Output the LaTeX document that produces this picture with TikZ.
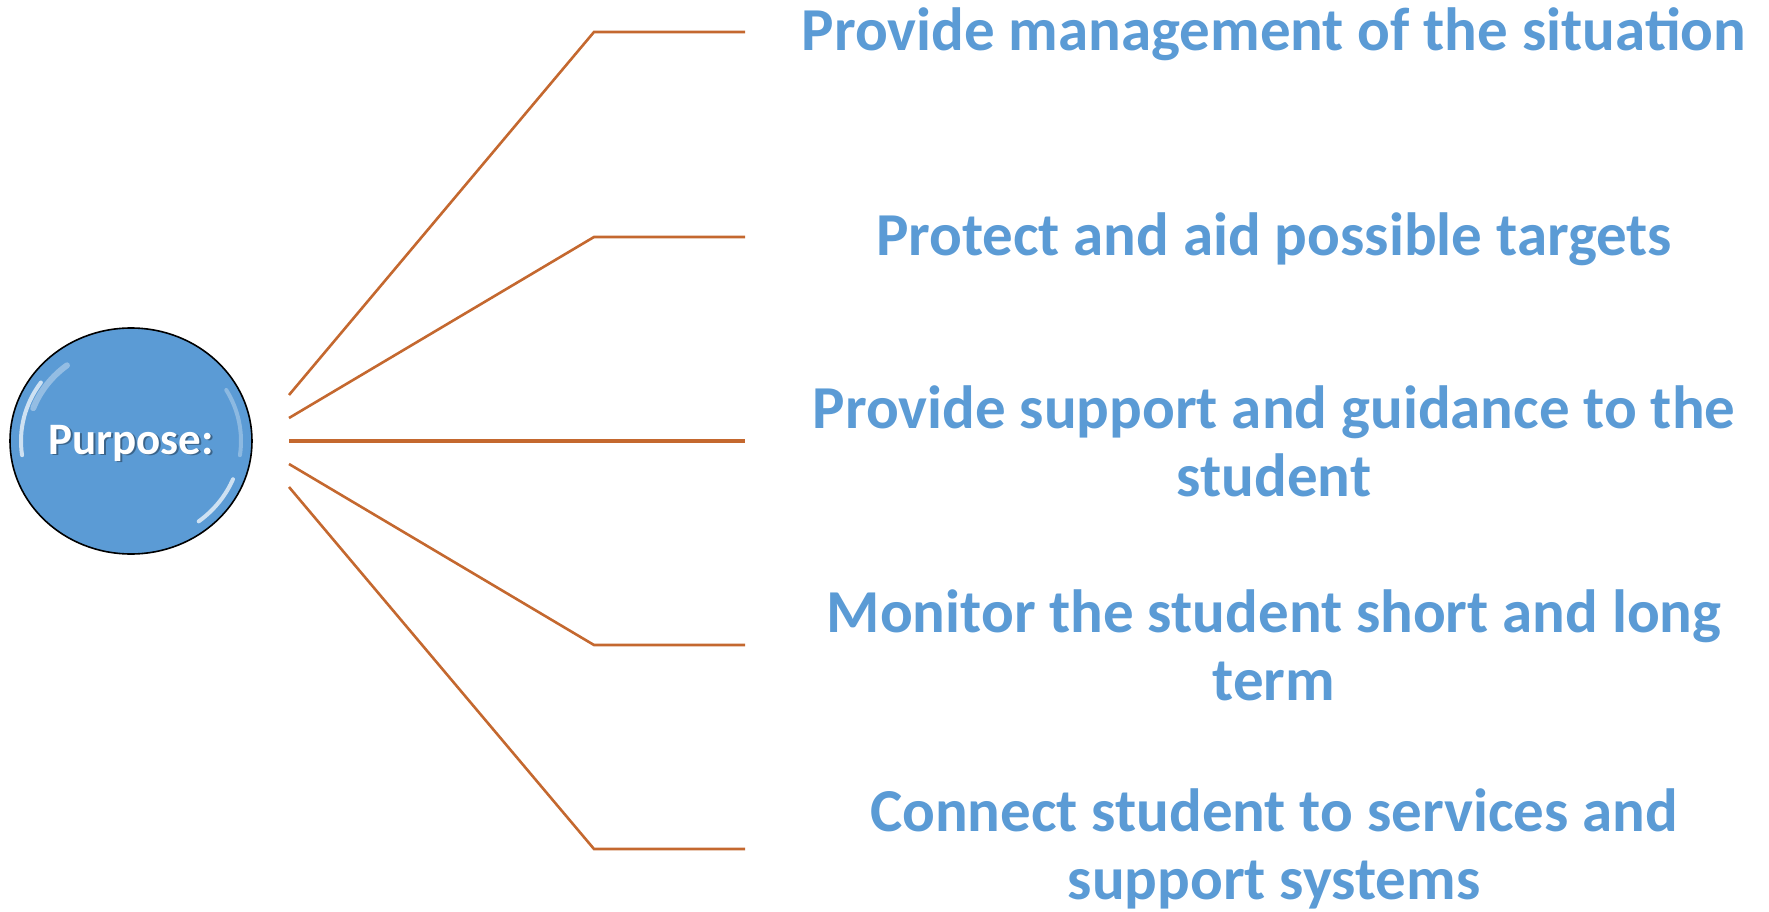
\documentclass[tikz,border=0pt]{standalone}
\usepackage{fontspec}
\setmainfont{Carlito}
\usetikzlibrary{shapes.geometric}
\definecolor{tblue}{HTML}{5B9BD5}
\definecolor{lorange}{HTML}{C4682F}
\tikzset{
  item/.style={text=tblue, font=\fontsize{61}{68}\selectfont\bfseries, align=center, inner sep=0},
  conn/.style={draw=lorange, line width=2.6},
  hub/.style={ellipse, draw=black, line width=1.6, fill=tblue, minimum width=242, minimum height=226, inner sep=0},
  gloss/.style={white, line width=4, opacity=0.7, line cap=round}
}
\begin{document}
\begin{tikzpicture}[x=1pt,y=-1pt]
\useasboundingbox (0,0) rectangle (1769,912);
% hub
\node[hub] (purpose) at (131,441) {};
\draw[gloss] (131,441) ++(172:110 and 102) arc[start angle=172, end angle=215, x radius=110, y radius=102];
\draw[gloss, opacity=0.35, line width=6] (131,441) ++(200:104 and 96) arc[start angle=200, end angle=232, x radius=104, y radius=96];
\draw[gloss] (131,441) ++(22:110 and 102) arc[start angle=22, end angle=52, x radius=110, y radius=102];
\draw[gloss, opacity=0.3] (131,441) ++(-30:110 and 102) arc[start angle=-30, end angle=8, x radius=110, y radius=102];
\node[text=black, opacity=0.35, font=\fontsize{45}{54}\selectfont\bfseries] at (133,444) {Purpose:};
\node[text=white, font=\fontsize{45}{54}\selectfont\bfseries] (ptext) at (131,443) {Purpose:};
% text items
\node[item] (t1) at (1274,34) {Provide management of the situation};
\node[item] (t2) at (1274,239) {Protect and aid possible targets};
\node[item] (t3) at (1274,441) {Provide support and guidance to the\\student};
\node[item] (t4) at (1274,645) {Monitor the student short and long\\term};
\node[item] (t5) at (1274,849) {Connect student to services and\\support systems};
% connector points
\coordinate (s1) at (289,395);
\coordinate (s2) at (289,418);
\coordinate (s3) at (289,441);
\coordinate (s4) at (289,464);
\coordinate (s5) at (289,487);
\coordinate (e1) at (745,32);
\coordinate (e2) at (745,237);
\coordinate (e3) at (745,441);
\coordinate (e4) at (745,645);
\coordinate (e5) at (745,849);
\draw[conn] (s1) -- (594,32) -- (e1);
\draw[conn] (s2) -- (594,237) -- (e2);
\draw[conn, line width=3.2] (s3) -- (e3);
\draw[conn] (s4) -- (594,645) -- (e4);
\draw[conn] (s5) -- (594,849) -- (e5);
\end{tikzpicture}
\end{document}
